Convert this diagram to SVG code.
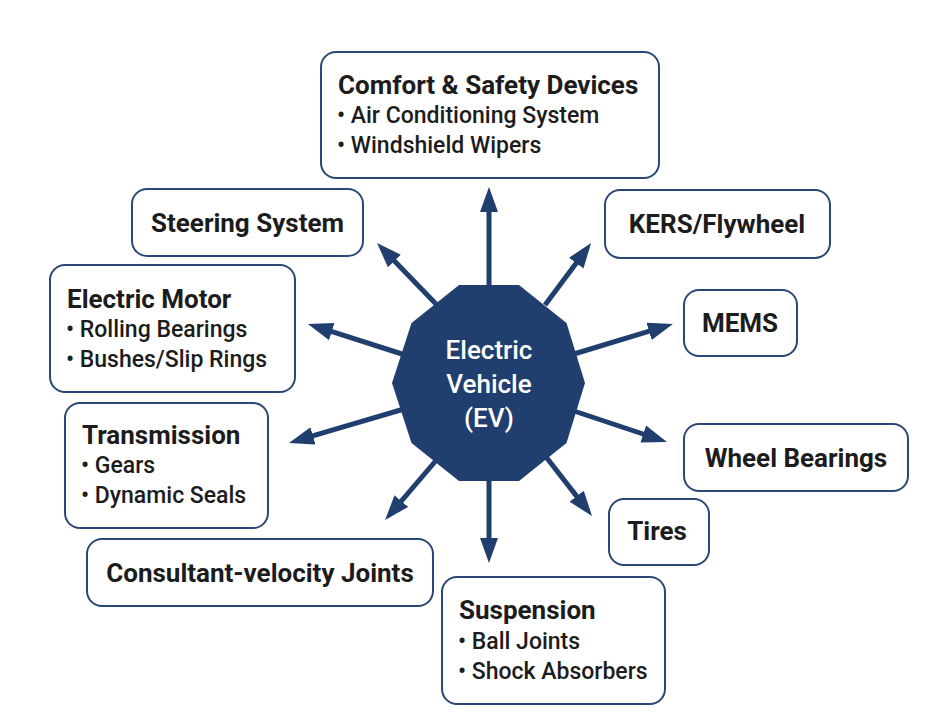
<svg xmlns="http://www.w3.org/2000/svg" width="942" height="726" viewBox="0 0 942 726">
<style>
.box{fill:#ffffff;stroke:#2b4775;stroke-width:2}
.t{font-family:Roboto,"Liberation Sans",sans-serif;font-weight:700;font-size:26px;fill:#1c1c1c}
.tc{font-family:Roboto,"Liberation Sans",sans-serif;font-weight:700;font-size:26px;fill:#1c1c1c;text-anchor:middle}
.s{font-family:Roboto,"Liberation Sans",sans-serif;font-weight:500;font-size:23px;fill:#1c1c1c}
.c{font-family:Roboto,"Liberation Sans",sans-serif;font-weight:500;font-size:26px;fill:#ffffff;text-anchor:middle}
.ln{stroke:#213f6e;stroke-width:5;fill:none;marker-end:url(#ah)}
</style>
<defs>
<marker id="ah" markerUnits="userSpaceOnUse" markerWidth="26" markerHeight="20" refX="3" refY="9" orient="auto">
<path d="M0,0 L25,9 L0,18 Z" fill="#213f6e"/>
</marker>
</defs>
<rect width="942" height="726" fill="#ffffff"/>
<g id="connectors">
<line class="ln" x1="489" y1="300" x2="489" y2="209"/>
<line class="ln" x1="489" y1="470" x2="489" y2="541"/>
<line class="ln" x1="436" y1="304" x2="392.3" y2="258.8"/>
<line class="ln" x1="545" y1="305" x2="578" y2="260.7"/>
<line class="ln" x1="574" y1="354" x2="651.9" y2="330.4"/>
<line class="ln" x1="402" y1="354" x2="328.9" y2="330.7"/>
<line class="ln" x1="404" y1="409" x2="310.1" y2="436.7"/>
<line class="ln" x1="574" y1="411" x2="646.1" y2="435"/>
<line class="ln" x1="439" y1="457" x2="399.4" y2="503.3"/>
<line class="ln" x1="543" y1="453" x2="578.5" y2="498.6"/>
</g>
<g id="ev">
<polygon points="585,383 566.5,323 519,285 459,285 411.5,323 392,383 411.5,443 459,481 519,481 566.5,443" fill="#213f6e"/>
<text class="c" x="489" y="359">Electric</text>
<text class="c" x="489" y="393">Vehicle</text>
<text class="c" x="489" y="427">(EV)</text>
</g>
<g id="comfort">
<rect class="box" x="321" y="52" width="338" height="126" rx="15"/>
<text class="t" x="338" y="94">Comfort &amp; Safety Devices</text>
<text class="s" x="337" y="123">• Air Conditioning System</text>
<text class="s" x="337" y="153">• Windshield Wipers</text>
</g>
<g id="steering">
<rect class="box" x="132" y="189" width="231" height="67" rx="15"/>
<text class="tc" x="247.5" y="232">Steering System</text>
</g>
<g id="kers">
<rect class="box" x="605" y="190" width="225" height="68" rx="15"/>
<text class="tc" x="717" y="233">KERS/Flywheel</text>
</g>
<g id="motor">
<rect class="box" x="50" y="265" width="245" height="127" rx="15"/>
<text class="t" x="67" y="308">Electric Motor</text>
<text class="s" x="66" y="337">• Rolling Bearings</text>
<text class="s" x="66" y="367">• Bushes/Slip Rings</text>
</g>
<g id="mems">
<rect class="box" x="684" y="290" width="113" height="66" rx="15"/>
<text class="tc" x="740" y="332">MEMS</text>
</g>
<g id="transmission">
<rect class="box" x="65" y="403" width="203" height="125" rx="15"/>
<text class="t" x="82" y="444">Transmission</text>
<text class="s" x="81" y="473">• Gears</text>
<text class="s" x="81" y="503">• Dynamic Seals</text>
</g>
<g id="wheel">
<rect class="box" x="684" y="424" width="224" height="67" rx="15"/>
<text class="tc" x="796" y="467">Wheel Bearings</text>
</g>
<g id="tires">
<rect class="box" x="609" y="499" width="100" height="66" rx="15"/>
<text class="tc" x="657" y="540">Tires</text>
</g>
<g id="cv">
<rect class="box" x="87" y="539" width="346" height="67" rx="15"/>
<text class="tc" x="260" y="582">Consultant-velocity Joints</text>
</g>
<g id="suspension">
<rect class="box" x="442" y="577" width="223" height="127" rx="15"/>
<text class="t" x="459" y="619">Suspension</text>
<text class="s" x="458" y="649">• Ball Joints</text>
<text class="s" x="458" y="679">• Shock Absorbers</text>
</g>
</svg>
